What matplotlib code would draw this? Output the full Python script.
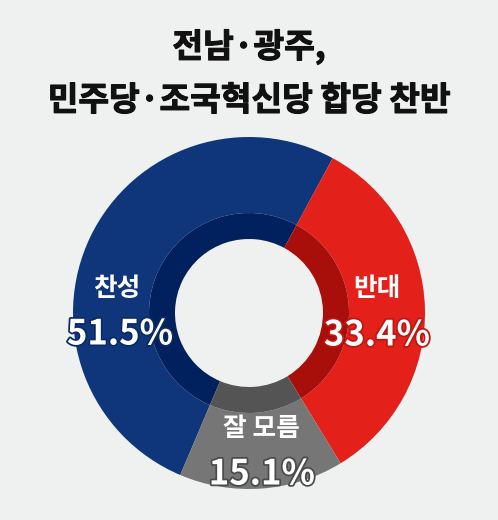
import matplotlib
matplotlib.use("Agg")
import matplotlib.pyplot as plt
import matplotlib.patheffects as pe

plt.rcParams['font.family'] = ['Noto Sans CJK KR', 'DejaVu Sans']

# Poll data
labels = ['찬성', '반대', '잘 모름']
values = [51.5, 33.4, 15.1]
pct_labels = ['51.5%', '33.4%', '15.1%']
title_lines = ['전남·광주,', '민주당·조국혁신당 합당 찬반']

# Colours: outer ring, inner (darker) ring, text outline
outer_colors = ['#0f367a', '#e3201a', '#767676']
inner_colors = ['#00205e', '#a80e0a', '#555454']
edge_colors = ['#0a2a66', '#c01510', '#4a4a4a']
bg = '#eff0f0'

W, H = 498, 520
fig = plt.figure(figsize=(W / 100, H / 100), dpi=100)
fig.patch.set_facecolor(bg)
ax = fig.add_axes([0, 0, 1, 1])
ax.set_facecolor(bg)

# pixel coords, y measured from bottom
cx, cy = 249, H - 313
r_out, r_mid, r_hole = 176, 100, 74

ax.pie(values, colors=outer_colors, radius=r_out, center=(cx, cy),
       startangle=247, counterclock=False,
       wedgeprops=dict(width=r_out - r_mid, edgecolor='none', linewidth=0))
ax.pie(values, colors=inner_colors, radius=r_mid, center=(cx, cy),
       startangle=247, counterclock=False,
       wedgeprops=dict(width=r_mid - r_hole, edgecolor='none', linewidth=0))

ax.set_xlim(0, W)
ax.set_ylim(0, H)
ax.set_aspect('equal')
ax.axis('off')

# label positions (pixel offsets from image top-left)
name_pos = [(117, 288), (377, 289), (261, 428)]
pct_pos = [(120, 334), (377, 335), (262, 474)]

for i in range(len(labels)):
    ax.text(name_pos[i][0], H - name_pos[i][1], labels[i], color='white',
            fontsize=18.5, fontweight='bold', ha='center', va='center')
    ax.text(pct_pos[i][0], H - pct_pos[i][1], pct_labels[i], color='white',
            fontsize=25, fontweight='bold', ha='center', va='center',
            path_effects=[pe.Stroke(linewidth=2.5, foreground=edge_colors[i]),
                          pe.Normal()])

for k, yy in enumerate([47, 101]):
    fig.text(0.5, 1 - yy / H, title_lines[k], ha='center', va='center',
             fontsize=24, fontweight='black', color='#111111',
             path_effects=[pe.Stroke(linewidth=0.8, foreground='#111111'),
                           pe.Normal()])

fig.savefig('out.png', dpi=100, facecolor=bg)
